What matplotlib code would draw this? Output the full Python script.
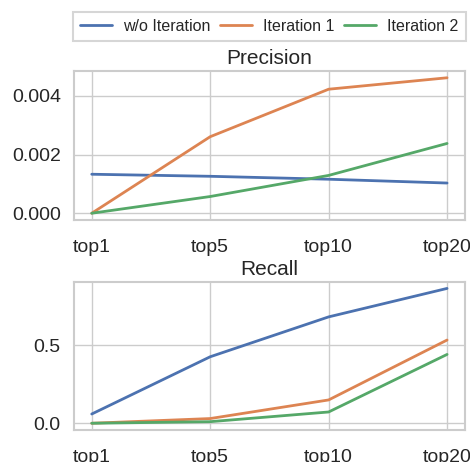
import matplotlib
matplotlib.use('Agg')
import matplotlib.pyplot as plt
import seaborn as sns

ks = ['top1', 'top5', 'top10', 'top20']
labels = ['w/o Iteration', 'Iteration 1', 'Iteration 2']

precision_wo = [0.00133, 0.00126, 0.00116, 0.00103]
precision_it1 = [0.0, 0.00261, 0.00423, 0.00462]
precision_it2 = [0.0, 0.00057, 0.00129, 0.00238]

recall_wo = [0.059, 0.425, 0.68, 0.862]
recall_it1 = [0.0, 0.03, 0.149, 0.532]
recall_it2 = [0.0, 0.01, 0.072, 0.44]

sns.set_theme(style='whitegrid')
plt.rcParams['font.family'] = ['Liberation Sans', 'DejaVu Sans']

colors = sns.color_palette('deep')

fig = plt.figure(figsize=(4.7, 4.62), dpi=100)
ax1 = fig.add_axes([0.1574, 0.5238, 0.8316, 0.3225])
ax2 = fig.add_axes([0.1574, 0.0693, 0.8316, 0.3210])

x = list(range(len(ks)))
for ax, series, title in [
    (ax1, [precision_wo, precision_it1, precision_it2], 'Precision'),
    (ax2, [recall_wo, recall_it1, recall_it2], 'Recall'),
]:
    for vals, lab, c in zip(series, labels, colors[:3]):
        ax.plot(x, vals, label=lab, color=c, linewidth=2)
    ax.set_xticks(x)
    ax.set_xticklabels(ks)
    ax.set_title(title, fontsize=15, pad=5)
    ax.tick_params(axis='both', labelsize=14)
    ax.tick_params(axis='x', pad=8)
    for s in ax.spines.values():
        s.set_color('0.8')
        s.set_linewidth(1.5)

ax1.set_yticks([0.0, 0.002, 0.004])
ax1.set_yticklabels(['0.000', '0.002', '0.004'])
ax2.set_yticks([0.0, 0.5])
ax2.set_yticklabels(['0.0', '0.5'])

leg = ax1.legend(loc='lower center', bbox_to_anchor=(0.5, 1.2), ncol=3,
                 fontsize=11.5, fancybox=False, borderaxespad=0, frameon=True,
                 columnspacing=0.6, handletextpad=0.7, borderpad=0.45)
leg.get_frame().set_edgecolor('0.8')
leg.get_frame().set_linewidth(1.5)

plt.savefig('out.png', dpi=100)
